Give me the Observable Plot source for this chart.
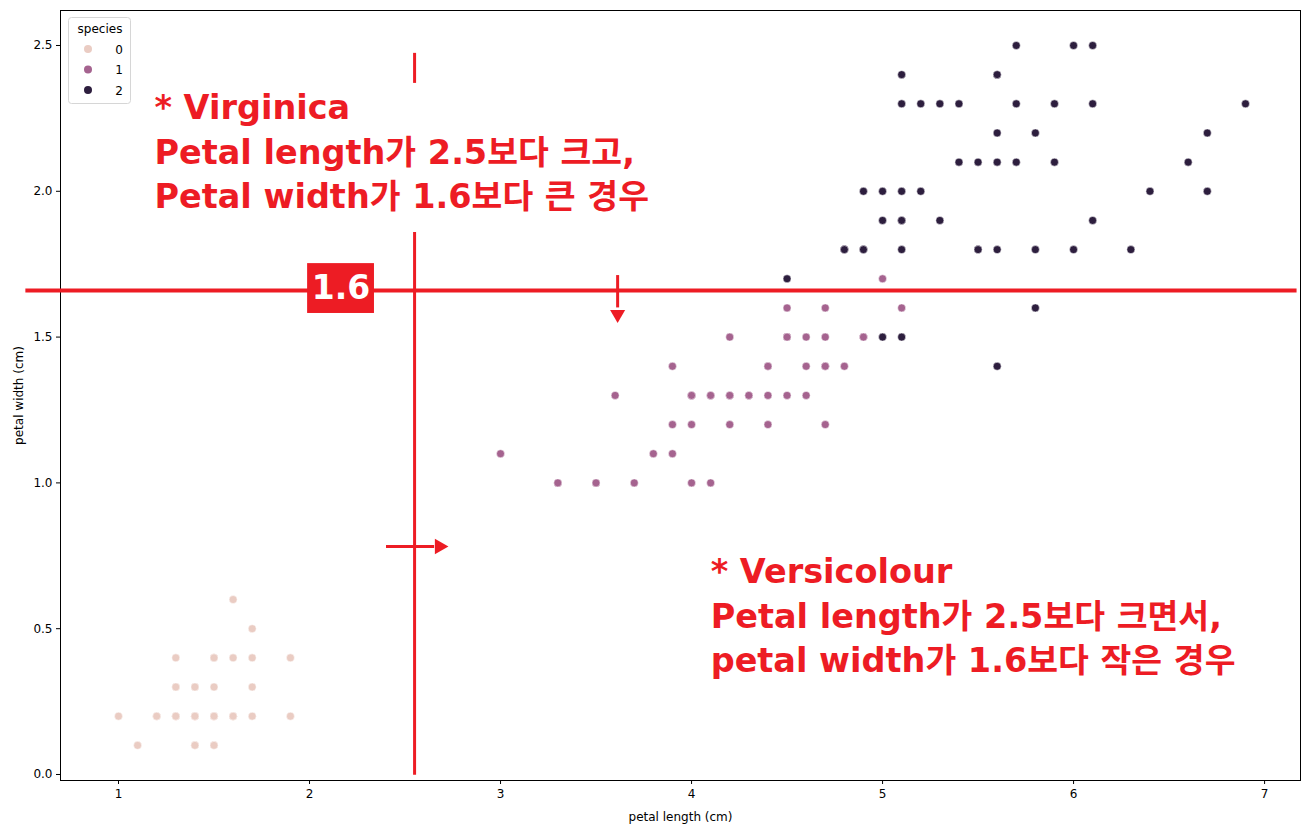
<!DOCTYPE html>
<html>
<head>
<meta charset="utf-8">
<script src="https://cdn.jsdelivr.net/npm/d3@7"></script>
<script src="https://cdn.jsdelivr.net/npm/@observablehq/plot@0.6"></script>
<style>
  html, body { margin: 0; padding: 0; background: #fff; }
  #wrap { position: relative; width: 1311px; height: 833px; }
  #legend { position: absolute; left: 68px; top: 17px; }
</style>
</head>
<body>
<div id="wrap"></div>
<script>
const species = [0, 1, 2];
const speciesColors = ["#eaccc3", "#a5638f", "#2d1e3e"];

const setosaLength = [1.4,1.4,1.3,1.5,1.4,1.7,1.4,1.5,1.4,1.5,1.5,1.6,1.4,1.1,1.2,1.5,1.3,1.4,1.7,1.5,1.7,1.5,1.0,1.7,1.9,1.6,1.6,1.5,1.4,1.6,1.6,1.5,1.5,1.4,1.5,1.2,1.3,1.4,1.3,1.5,1.3,1.3,1.3,1.6,1.9,1.4,1.6,1.4,1.5,1.4];
const setosaWidth  = [0.2,0.2,0.2,0.2,0.2,0.4,0.3,0.2,0.2,0.1,0.2,0.2,0.1,0.1,0.2,0.4,0.4,0.3,0.3,0.3,0.2,0.4,0.2,0.5,0.2,0.2,0.4,0.2,0.2,0.2,0.2,0.4,0.1,0.2,0.2,0.2,0.2,0.1,0.2,0.2,0.3,0.3,0.2,0.6,0.4,0.3,0.2,0.2,0.2,0.2];

const versicolorLength = [4.7,4.5,4.9,4.0,4.6,4.5,4.7,3.3,4.6,3.9,3.5,4.2,4.0,4.7,3.6,4.4,4.5,4.1,4.5,3.9,4.8,4.0,4.9,4.7,4.3,4.4,4.8,5.0,4.5,3.5,3.8,3.7,3.9,5.1,4.5,4.5,4.7,4.4,4.1,4.0,4.4,4.6,4.0,3.3,4.2,4.2,4.2,4.3,3.0,4.1];
const versicolorWidth  = [1.4,1.5,1.5,1.3,1.5,1.3,1.6,1.0,1.3,1.4,1.0,1.5,1.0,1.4,1.3,1.4,1.5,1.0,1.5,1.1,1.8,1.3,1.5,1.2,1.3,1.4,1.4,1.7,1.5,1.0,1.1,1.0,1.2,1.6,1.5,1.6,1.5,1.3,1.3,1.3,1.2,1.4,1.2,1.0,1.3,1.2,1.3,1.3,1.1,1.3];

const virginicaLength = [6.0,5.1,5.9,5.6,5.8,6.6,4.5,6.3,5.8,6.1,5.1,5.3,5.5,5.0,5.1,5.3,5.5,6.7,6.9,5.0,5.7,4.9,6.7,4.9,5.7,6.0,4.8,4.9,5.6,5.8,6.1,6.4,5.6,5.1,5.6,6.1,5.6,5.5,4.8,5.4,5.6,5.1,5.1,5.9,5.7,5.2,5.0,5.2,5.4,5.1];
const virginicaWidth  = [2.5,1.9,2.1,1.8,2.2,2.1,1.7,1.8,1.8,2.5,2.0,1.9,2.1,2.0,2.4,2.3,1.8,2.2,2.3,1.5,2.3,2.0,2.0,1.8,2.1,1.8,1.8,1.8,2.1,1.6,1.9,2.0,2.2,1.5,1.4,2.3,2.4,1.8,1.8,2.1,2.4,2.3,1.9,2.3,2.5,2.3,1.9,2.0,2.3,1.8];

const xTicks = [1, 2, 3, 4, 5, 6, 7];
const yTicks = [0, 0.5, 1.0, 1.5, 2.0, 2.5];

// ---- Annotation content (overlay drawn on the chart) ----
const thresholdWidth = 1.66;   // horizontal red line (labelled 1.6)
const thresholdLength = 2.55;  // vertical red line
const thresholdLabel = ["1.6"];
const virginicaNote = ["* Virginica\nPetal length가 2.5보다 크고,\nPetal width가 1.6보다 큰 경우"];
const versicolourNote = ["* Versicolour\nPetal length가 2.5보다 크면서,\npetal width가 1.6보다 작은 경우"];

// ---- Build table ----
const rows = [];
[[setosaLength, setosaWidth], [versicolorLength, versicolorWidth], [virginicaLength, virginicaWidth]]
  .forEach(([L, W], s) => L.forEach((v, i) => rows.push({length: v, width: W[i], species: s})));

const red = "#ed1c24";
const font = "DejaVu Sans, sans-serif";
const noteFont = "'DejaVu Sans', 'Noto Sans CJK KR', sans-serif";

const chart = Plot.plot({
  width: 1311,
  height: 833,
  marginTop: 10,
  marginBottom: 53,
  marginLeft: 60,
  marginRight: 11,
  style: {fontFamily: font, fontSize: "12px", color: "#000", background: "#fff", overflow: "visible"},
  x: {domain: [0.6963, 7.188], ticks: xTicks, tickFormat: d3.format("d"), label: "petal length (cm)"},
  y: {domain: [-0.0206, 2.62], ticks: yTicks, tickFormat: d3.format(".1f"), label: "petal width (cm)"},
  color: {domain: species, range: speciesColors},
  marks: [
    Plot.dot(rows, {x: "length", y: "width", fill: "species", r: 4, stroke: "white", strokeWidth: 0.5}),
    Plot.frame({stroke: "#000", strokeWidth: 1}),
    Plot.axisX({ticks: xTicks, tickFormat: d3.format("d"), tickSize: 4, tickPadding: 5, fontSize: 12,
                label: "petal length (cm)", labelAnchor: "center", labelArrow: "none", labelOffset: 40}),
    Plot.axisY({ticks: yTicks, tickFormat: d3.format(".1f"), tickSize: 4, tickPadding: 4, fontSize: 12,
                label: "petal width (cm)", labelAnchor: "center", labelArrow: "none", labelOffset: 46}),

    // red threshold lines
    Plot.ruleY([thresholdWidth], {x1: 0.515, x2: 7.17, stroke: red, strokeWidth: 4}),
    Plot.ruleX([thresholdLength], {y1: 2.473, y2: 2.37, stroke: red, strokeWidth: 3}),
    Plot.ruleX([thresholdLength], {y1: 1.859, y2: -0.003, stroke: red, strokeWidth: 3}),

    // arrows
    Plot.ruleX([3.613], {y1: 1.711, y2: 1.60, stroke: red, strokeWidth: 3}),
    Plot.dot([3.613], {x: d => d, y: 1.578, symbol: "triangle", r: 5.6, fill: red, rotate: 180}),
    Plot.ruleY([0.782], {x1: 2.403, x2: 2.655, stroke: red, strokeWidth: 3}),
    Plot.dot([0.782], {x: 2.68, y: d => d, symbol: "triangle", r: 5.8, fill: red, rotate: 90}),

    // 1.6 label box
    Plot.rect(thresholdLabel, {x1: 1.99, x2: 2.34, y1: 1.581, y2: 1.752, fill: red}),
    Plot.text(thresholdLabel, {x: 2.165, y: 1.667, text: d => d, fill: "white", fontSize: 33, fontWeight: "bold",
                               fontFamily: "'DejaVu Sans', sans-serif", textAnchor: "middle"}),

    // text notes
    Plot.text(virginicaNote, {x: 1.188, y: 2.354, text: d => d, fill: red, fontSize: 33.5, fontWeight: "bold",
                              fontFamily: noteFont, textAnchor: "start", lineAnchor: "top", lineHeight: 1.32}),
    Plot.text(versicolourNote, {x: 4.10, y: 0.763, text: d => d, fill: red, fontSize: 33.5, fontWeight: "bold",
                                fontFamily: noteFont, textAnchor: "start", lineAnchor: "top", lineHeight: 1.32})
  ]
});

document.getElementById("wrap").appendChild(chart);

// ---- legend (inside the axes, top-left) ----
const leg = d3.select("#wrap").append("svg").attr("id", "legend")
  .attr("width", 64).attr("height", 88).style("font-family", font).style("font-size", "12px");
leg.append("rect").attr("x", 0.5).attr("y", 0.5).attr("width", 62).attr("height", 86)
  .attr("rx", 3).attr("fill", "white").attr("fill-opacity", 0.8).attr("stroke", "#d6d6d6");
leg.append("text").attr("x", 32).attr("y", 16).attr("text-anchor", "middle").attr("fill", "#000").text("species");
species.forEach((s, i) => {
  const y = 32 + i * 20.5;
  leg.append("circle").attr("cx", 20).attr("cy", y).attr("r", 4).attr("fill", speciesColors[i]);
  leg.append("text").attr("x", 55).attr("y", y + 4.5).attr("text-anchor", "end").attr("fill", "#000").text(String(s));
});
</script>
</body>
</html>
